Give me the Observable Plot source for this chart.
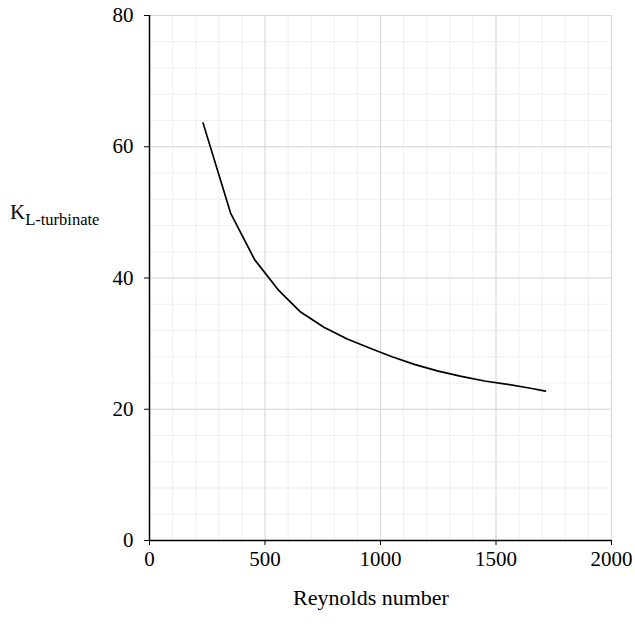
<!DOCTYPE html>
<html>
<head>
<meta charset="utf-8">
<script src="https://cdn.jsdelivr.net/npm/d3@7"></script>
<script src="https://cdn.jsdelivr.net/npm/@observablehq/plot@0.6"></script>
<style>
  html, body { margin: 0; padding: 0; background: #fff; }
</style>
</head>
<body>
<div id="chart"></div>
<script>
// Data
const reynolds = [232, 351, 455, 557, 651, 755, 856, 955, 1050, 1150, 1250, 1350, 1450, 1550, 1650, 1714];
const kTurbinate = [63.6, 49.9, 42.8, 38.2, 34.9, 32.5, 30.7, 29.3, 28.0, 26.8, 25.8, 25.0, 24.3, 23.8, 23.2, 22.75];

const xTicks = [0, 500, 1000, 1500, 2000];
const yTicks = [0, 20, 40, 60, 80];
const xMinor = d3.range(0, 2001, 100);
const yMinor = d3.range(0, 81, 4);

const data = reynolds.map((r, i) => ({re: r, k: kTurbinate[i]}));

const chart = Plot.plot({
  width: 635,
  height: 626,
  marginLeft: 149,
  marginRight: 24,
  marginTop: 15,
  marginBottom: 86,
  style: {fontFamily: "'Liberation Serif', serif", fontSize: "21px", color: "#000", background: "#fff"},
  x: {domain: [0, 2000]},
  y: {domain: [0, 80]},
  marks: [
    Plot.ruleX(xMinor, {stroke: "#efefef", strokeWidth: 1}),
    Plot.ruleY(yMinor, {stroke: "#efefef", strokeWidth: 1}),
    Plot.ruleX(xTicks, {stroke: "#d9d9d9", strokeWidth: 1}),
    Plot.ruleY(yTicks, {stroke: "#d9d9d9", strokeWidth: 1}),
    Plot.axisX({ticks: xTicks, tickSize: 5, tickPadding: 6, label: null, tickFormat: d => String(d)}),
    Plot.axisY({ticks: yTicks, tickSize: 5, tickPadding: 11, label: null, tickFormat: d => String(d)}),
    Plot.ruleX([0], {stroke: "#000", strokeWidth: 1.5}),
    Plot.ruleY([0], {stroke: "#000", strokeWidth: 1.5}),
    Plot.line(data, {x: "re", y: "k", stroke: "#000", strokeWidth: 1.7})
  ]
});

const svg = d3.select(chart);
// x-axis title
svg.append("text")
  .attr("x", 371).attr("y", 605)
  .attr("text-anchor", "middle")
  .style("font-family", "'Liberation Serif', serif")
  .style("font-size", "22px")
  .attr("fill", "#000")
  .text("Reynolds number");
// y-axis title with subscript
const yl = svg.append("text")
  .attr("x", 10).attr("y", 219)
  .attr("text-anchor", "start")
  .style("font-family", "'Liberation Serif', serif")
  .attr("fill", "#000");
yl.append("tspan").style("font-size", "21px").text("K");
yl.append("tspan").style("font-size", "16.5px").attr("dy", 6).text("L-turbinate");

document.getElementById("chart").appendChild(chart);
</script>
</body>
</html>
